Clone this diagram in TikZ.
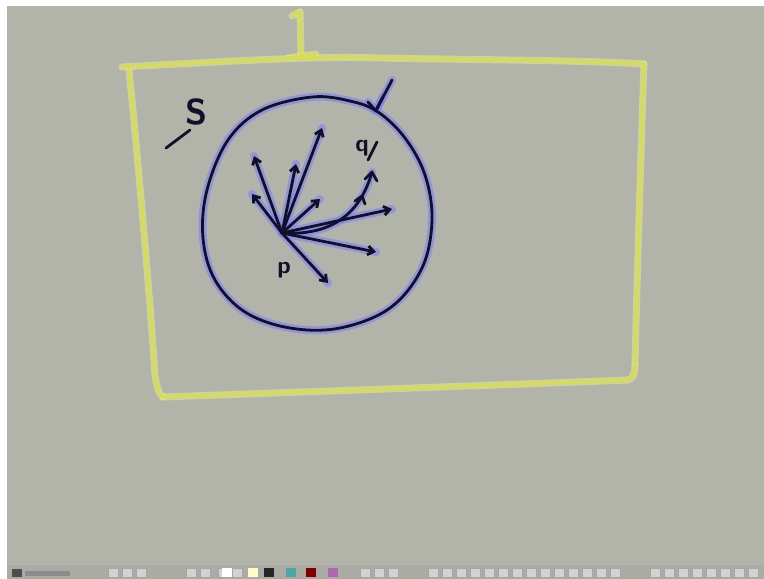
\documentclass[tikz,border=0pt]{standalone}
\usetikzlibrary{arrows.meta}
\definecolor{board}{RGB}{178,180,170}
\definecolor{ink}{RGB}{16,16,40}
\definecolor{glow}{RGB}{125,125,255}
\definecolor{hl}{RGB}{214,220,86}
\definecolor{hlsoft}{RGB}{225,230,150}
\definecolor{tbar}{RGB}{170,172,164}
\tikzset{
  inkline/.style={ink, line width=2.8pt, line cap=round, line join=round},
  glowline/.style={glow, opacity=0.55, line width=8pt, line cap=round, line join=round},
  yel/.style={hl, line width=3.5pt, line cap=round, line join=round},
  yelsoft/.style={hlsoft, opacity=0.6, line width=7pt, line cap=round, line join=round},
  vec/.style={inkline, -{Straight Barb[length=6pt,width=9pt]}},
  lbl/.style={ink, font=\sffamily\bfseries\fontsize{36}{36}\selectfont},
  tool/.style={draw=gray!70, fill=gray!35, line width=0.4pt},
}
\begin{document}
\begin{tikzpicture}[x=1pt,y=-1pt]
\useasboundingbox (0,0) rectangle (764,579);
\fill[white] (0,0) rectangle (764,579);
\fill[board] (7,6) rectangle (764,579);
% toolbar
\fill[tbar] (7,564) rectangle (764,579);
\draw[gray!60, line width=0.5pt] (7,564) -- (764,564);
\foreach \x in {108,122,136,186,200,218,232,360,374,388,428,442,456,470,484,498,512,526,540,554,568,582,596,610,650,664,678,692,706,720,734,748}
  \draw[tool] (\x,568) rectangle (\x+10,577);
\foreach \x/\c in {222/white,248/white!80!yellow,264/black!85,286/teal!70,306/red!50!black,328/violet!60}
  \fill[\c] (\x,568) rectangle (\x+10,577);
\fill[black!70] (12,569) rectangle (22,577);
\fill[black!45] (25,571) rectangle (70,576);
% yellow frame
\coordinate (TL) at (122,67);
\coordinate (TR) at (644,64);
\coordinate (BL) at (163,397);
\foreach \s in {yelsoft,yel}{
  \draw[\s] (TL) .. controls (250,60) and (320,56) .. (380,58) .. controls (480,60) and (580,60) .. (TR);
  \draw[\s] (129,70) .. controls (140,180) and (150,300) .. (155,375) .. controls (157,390) and (160,395) .. (BL);
  \draw[\s] (BL) .. controls (300,392) and (500,385) .. (628,380) .. controls (633,378) and (635,375) .. (635,365);
  \draw[\s] (TR) .. controls (641,150) and (637,280) .. (635,365);
  \draw[\s] (300,12) -- (301,54);
  \draw[\s] (292,16) -- (300,12);
  \draw[\s] (288,58) -- (316,54);
}
% blob
\coordinate (P) at (282,233);
\foreach \s in {glowline,inkline}{
  \draw[\s] plot[smooth cycle, tension=0.6] coordinates {(312,97) (350,101) (378,112) (405,138) (425,175) (432,220) (422,268) (390,308) (340,328) (290,328) (245,312) (215,280) (203,238) (207,190) (228,140) (262,110)};
  \draw[\s] (392,80) .. controls (386,92) and (380,102) .. (376,110);
  \draw[\s] (368,102) -- (376,111) -- (383,97);
}
% vectors from P
\foreach \e in {(254,156),(252,194),(296,164),(322,128),(320,199),(392,209),(376,252),(328,283)}
  \draw[glowline] (P) -- \e;
\draw[glowline] (P) .. controls (330,236) and (360,215) .. (372,172);
\foreach \e in {(254,156),(252,194),(296,164),(322,128),(320,199),(392,209),(376,252),(328,283)}
  \draw[vec] (P) -- \e;
\draw[inkline] (P) .. controls (330,236) and (360,215) .. (372,172);
\draw[inkline] (365,179) -- (372,172) -- (377,181);
\draw[inkline] (355,201) -- (362,196) -- (365,204);
% labels
\node[lbl] (S) at (196,112) {S};
\draw[inkline] (190,130) -- (166,148);
\node[lbl, font=\sffamily\bfseries\fontsize{24}{24}\selectfont] (Plab) at (284,270) {p};
\node[lbl, font=\sffamily\bfseries\fontsize{24}{24}\selectfont] (Q) at (362,148) {q};
\draw[inkline] (368,160) -- (377,142);
\end{tikzpicture}
\end{document}
